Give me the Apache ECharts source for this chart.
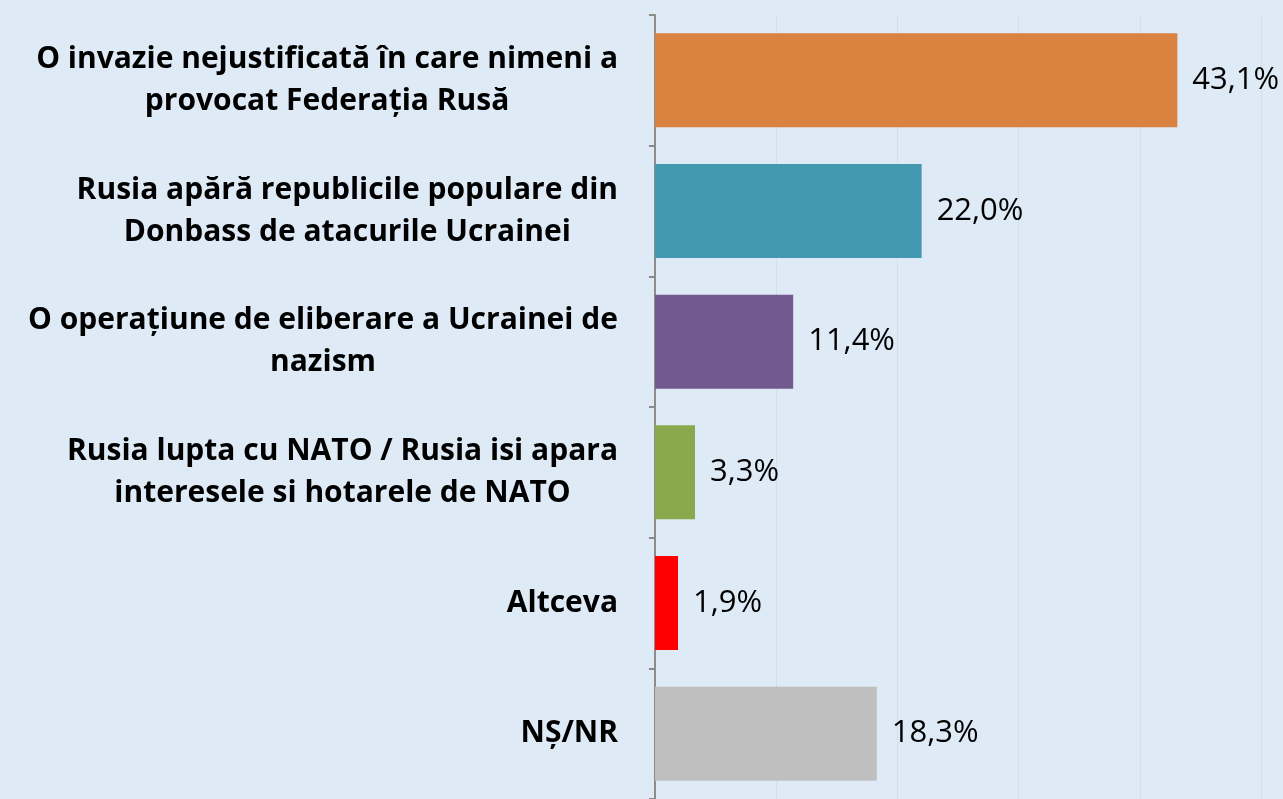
<!DOCTYPE html>
<html>
<head>
<meta charset="utf-8">
<script src="https://cdn.jsdelivr.net/npm/echarts@6/dist/echarts.min.js"></script>
<style>
html,body{margin:0;padding:0;background:#DEEAF6;}
#c{width:1283px;height:799px;}
</style>
</head>
<body>
<div id="c"></div>
<script>
var categories = [
  "O invazie nejustificată în care nimeni a\nprovocat Federația Rusă",
  "Rusia apără republicile populare din\nDonbass de atacurile Ucrainei",
  "O operațiune de eliberare a Ucrainei de\nnazism",
  "Rusia lupta cu NATO / Rusia isi apara\ninteresele si hotarele de NATO",
  "Altceva",
  "NȘ/NR"
];
var values = [43.1, 22.0, 11.4, 3.3, 1.9, 18.3];
var colors = ["#DA823F", "#4299B0", "#72598F", "#8AA84E", "#FF0000", "#BFBFBF"];

var chart = echarts.init(document.getElementById('c'));
chart.setOption({
  backgroundColor: '#DEEAF6',
  animation: false,
  grid: {left: 655, top: 15, width: 606, height: 789},
  xAxis: {
    type: 'value', min: 0, max: 50, interval: 10,
    axisLabel: {show: false}, axisLine: {show: false}, axisTick: {show: false},
    splitLine: {show: true, lineStyle: {color: '#D3DFEC', width: 1}}
  },
  yAxis: {
    type: 'category', inverse: true, data: categories,
    axisLine: {show: true, lineStyle: {color: '#8C8C8C', width: 2}},
    axisTick: {show: true, length: 6, lineStyle: {color: '#8C8C8C', width: 2}},
    axisLabel: {
      margin: 37, align: 'right',
      formatter: function (v) {
        return v.split('\n').map(function (l) { return '{c|' + l + '}'; }).join('\n');
      },
      rich: {c: {align: 'center', fontFamily: 'Open Sans', fontWeight: 'bold', fontSize: 30, color: '#000', lineHeight: 42}}
    }
  },
  series: [{
    type: 'bar', barCategoryGap: '28%',
    data: values.map(function (v, i) { return {value: v, itemStyle: {color: colors[i]}}; }),
    label: {
      show: true, position: 'right', distance: 15,
      fontFamily: 'Open Sans', fontSize: 31, color: '#000',
      formatter: function (p) { return p.value.toFixed(1).replace('.', ',') + '%'; }
    }
  }]
});
</script>
</body>
</html>
